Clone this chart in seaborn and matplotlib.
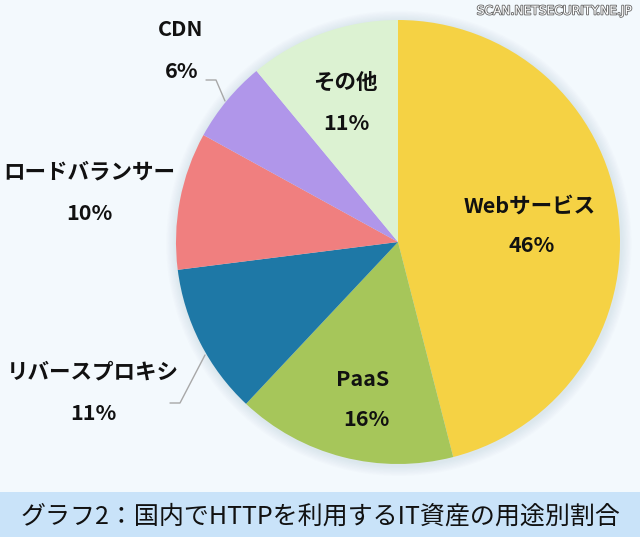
import matplotlib
matplotlib.use("Agg")
import matplotlib.pyplot as plt
import matplotlib.patheffects as pe
from matplotlib.patches import Circle
import seaborn as sns

sns.set_theme(style="white")
plt.rcParams['font.family'] = ['Noto Sans CJK JP', 'DejaVu Sans']

categories = ["Webサービス", "PaaS", "リバースプロキシ", "ロードバランサー", "CDN", "その他"]
values = [46, 16, 11, 10, 6, 11]
colors = ["#F5D244", "#A6C65A", "#1E78A6", "#F07F7F", "#B096EA", "#DCF2D2"]
title = "グラフ2：国内でHTTPを利用するIT資産の用途別割合"
watermark = "SCAN.NETSECURITY.NE.JP"

W, H = 640, 537
fig = plt.figure(figsize=(W / 100, H / 100), dpi=100)
fig.patch.set_facecolor("#F3F9FD")

# bottom band
band = fig.add_axes([0, 0, 1, 45 / H])
band.set_facecolor("#C9E3F9")
band.set_xticks([]); band.set_yticks([])
for s in band.spines.values():
    s.set_visible(False)
band.text(0.5, 0.45, title, ha="center", va="center", fontsize=18,
          color="#111111", transform=band.transAxes)

# pie axes: center (398,242), radius 222 px
cx, cy, r = 398, 242, 222
ax = fig.add_axes([(cx - r) / W, (H - cy - r) / H, 2 * r / W, 2 * r / H])
ax.set_facecolor("none")
# soft shadow
for k in range(8, 0, -1):
    ax.add_patch(Circle((0.004, -0.006), 1.0 + k * 0.006, color="#7A8FA0",
                        alpha=0.018, lw=0, clip_on=False, zorder=0))
wedges, _ = ax.pie(values, colors=colors, startangle=90, counterclock=False,
                   radius=1.0, wedgeprops=dict(linewidth=0, zorder=1))
ax.set_xlim(-1, 1); ax.set_ylim(-1, 1)
ax.set_aspect("equal")
ax.axis("off")

def px(x, y):
    return ((x - cx) / r, (cy - y) / r)

lab_kw = dict(ha="center", va="center", fontsize=15.5, fontweight="bold", color="#111111")
pos_inside = {0: ((530, 206), (532, 246)), 1: ((363, 380), (366, 420)), 5: ((345, 82), (346, 123))}
pos_out = {4: ((181, 30), (182, 72)), 3: ((89, 172), (89, 214)), 2: ((93, 372), (93, 413))}
for i, (p1, p2) in {**pos_inside, **pos_out}.items():
    ax.text(*px(*p1), categories[i], clip_on=False, zorder=5, **lab_kw)
    ax.text(*px(*p2), f"{values[i]}%", clip_on=False, zorder=5, **lab_kw)

# leader lines
lc = "#A8A8A8"
xs, ys = zip(*[px(206, 80), px(216, 80), px(225, 101)])
ax.plot(xs, ys, color=lc, lw=1, clip_on=False)
xs, ys = zip(*[px(170, 403), px(180, 403), px(205, 355)])
ax.plot(xs, ys, color=lc, lw=1, clip_on=False)

fig.text(632 / W, 1 - 11 / H, watermark, ha="right", va="center", fontsize=8.8,
         color="white", family=["DejaVu Sans"],
         path_effects=[pe.withStroke(linewidth=1.2, foreground="#666666")])

fig.savefig("out.png", dpi=100, facecolor=fig.get_facecolor())
